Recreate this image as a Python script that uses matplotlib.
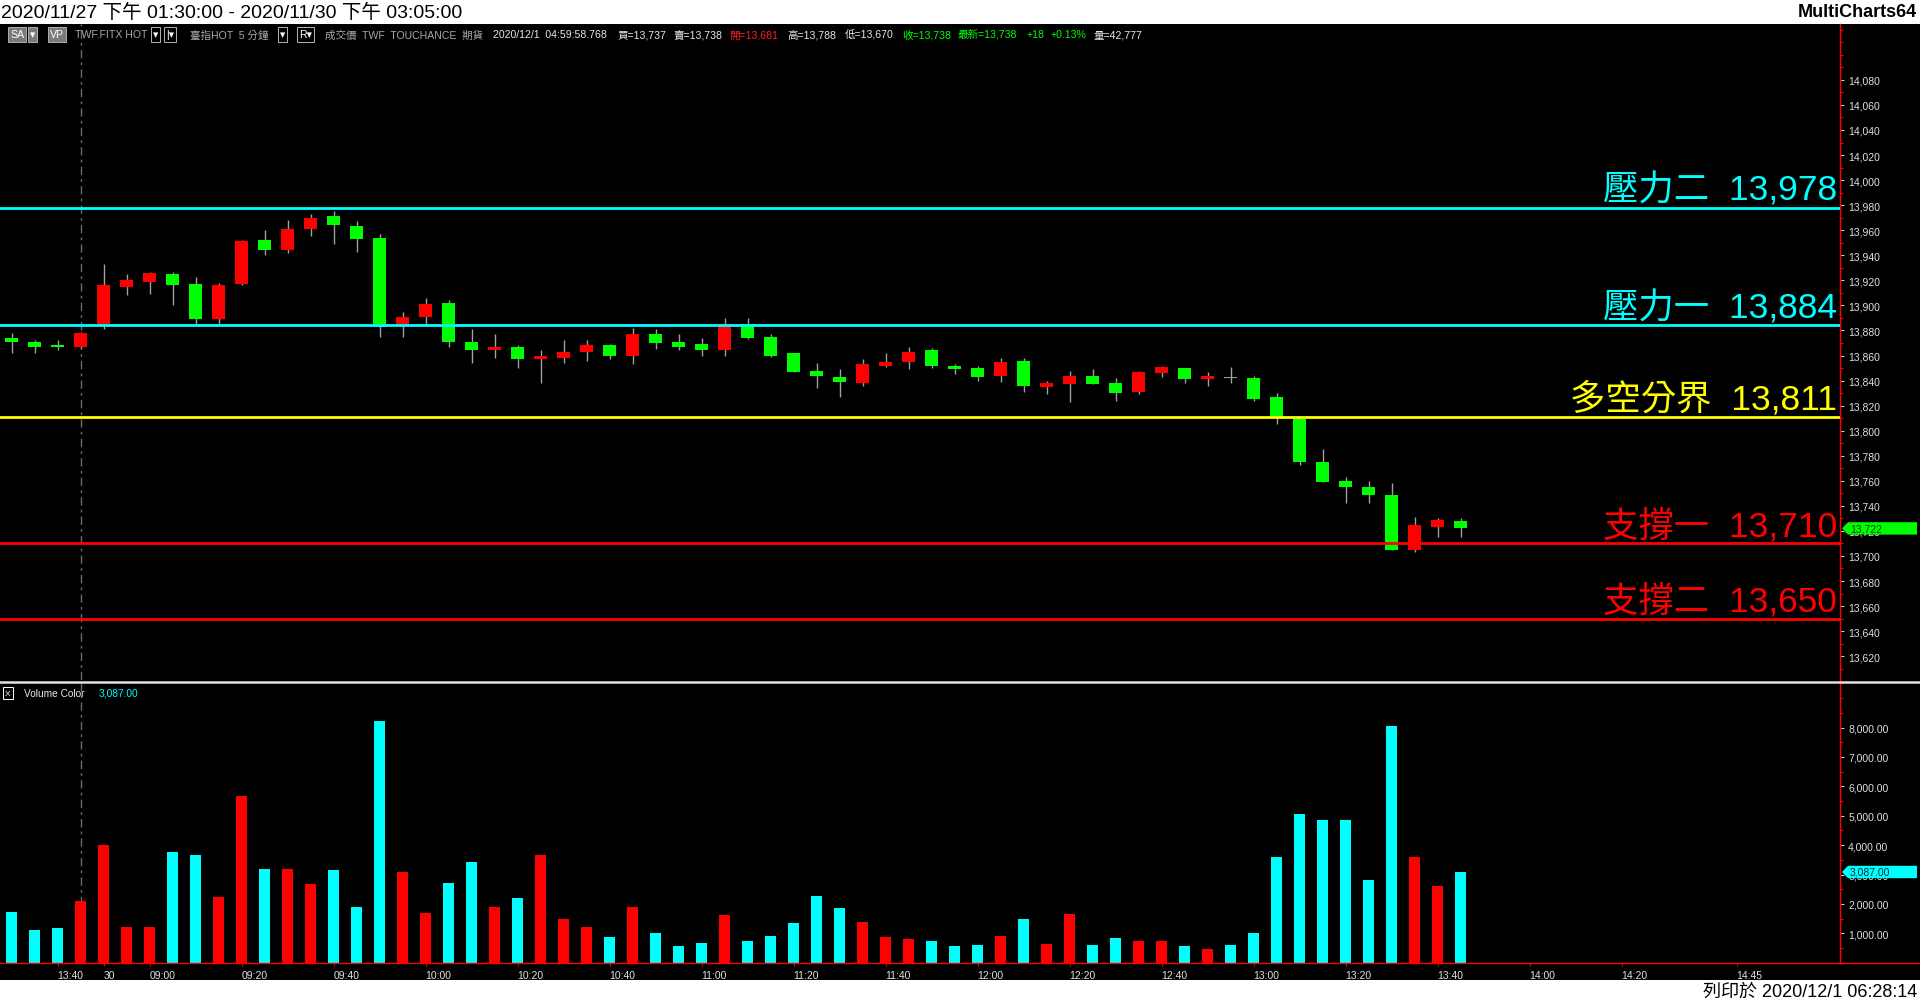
import matplotlib
matplotlib.use('Agg')
import matplotlib.pyplot as plt
import numpy as np
from matplotlib.patches import Rectangle, Polygon
from matplotlib.lines import Line2D
from matplotlib.ticker import MultipleLocator, FuncFormatter
from matplotlib.transforms import blended_transform_factory, ScaledTranslation

FONT = ['Liberation Sans', 'Noto Sans CJK TC', 'DejaVu Sans']
plt.rcParams['font.family'] = FONT

# --- 5 minute bars, 11/27 13:30 .. 11/30 13:45 ---
opens = [13874, 13871, 13868, 13867, 13884, 13915, 13919, 13925, 13917, 13889,
         13917, 13952, 13944, 13961, 13971, 13963, 13954, 13884, 13891, 13902,
         13871, 13864, 13867, 13857, 13858, 13863, 13868, 13860, 13877, 13871,
         13869, 13864, 13885, 13875, 13862, 13848, 13843, 13838, 13852, 13855,
         13864, 13852, 13850, 13844, 13856, 13835, 13837, 13844, 13838, 13831,
         13846, 13850, 13841, 13842, 13842, 13827, 13811, 13775, 13760, 13755,
         13749, 13705, 13723, 13728]
highs = [13878, 13872, 13872, 13879, 13933, 13925, 13927, 13927, 13923, 13918,
         13952, 13960, 13968, 13973, 13975, 13967, 13957, 13895, 13906, 13904,
         13881, 13877, 13868, 13864, 13872, 13872, 13869, 13882, 13881, 13877,
         13874, 13890, 13890, 13877, 13862, 13854, 13849, 13857, 13862, 13867,
         13866, 13853, 13852, 13858, 13858, 13840, 13848, 13849, 13842, 13848,
         13852, 13850, 13847, 13851, 13844, 13830, 13812, 13785, 13763, 13760,
         13758, 13731, 13730, 13730]
lows = [13862, 13862, 13864, 13866, 13881, 13908, 13909, 13900, 13884, 13884,
        13916, 13940, 13942, 13955, 13949, 13943, 13875, 13875, 13885, 13867,
        13854, 13858, 13850, 13838, 13854, 13856, 13857, 13853, 13865, 13864,
        13860, 13860, 13873, 13859, 13847, 13834, 13827, 13836, 13851, 13849,
        13850, 13845, 13840, 13839, 13831, 13829, 13823, 13837, 13824, 13829,
        13843, 13838, 13836, 13838, 13824, 13805, 13773, 13759, 13742, 13742,
        13705, 13703, 13715, 13715]
closes = [13871, 13867, 13867, 13878, 13916, 13920, 13926, 13916, 13889, 13916,
          13951, 13944, 13961, 13970, 13964, 13953, 13883, 13891, 13901, 13871,
          13864, 13867, 13857, 13860, 13863, 13868, 13860, 13877, 13870, 13867,
          13864, 13885, 13874, 13860, 13847, 13844, 13839, 13853, 13855, 13863,
          13852, 13849, 13843, 13855, 13836, 13838, 13844, 13837, 13830, 13847,
          13851, 13841, 13844, 13842, 13825, 13811, 13775, 13759, 13755, 13749,
          13705, 13725, 13729, 13722]
volumes = [1730, 1110, 1180, 2100, 3990, 1210, 1210, 3750, 3680, 2240,
           5680, 3200, 3200, 2690, 3170, 1900, 8230, 3070, 1690, 2720,
           3410, 1900, 2210, 3680, 1490, 1210, 870, 1900, 1010, 560,
           660, 1630, 730, 900, 1350, 2280, 1870, 1380, 870, 800,
           730, 560, 600, 900, 1500, 650, 1650, 600, 850, 750,
           750, 580, 480, 600, 1000, 3600, 5050, 4850, 4850, 2800,
           8050, 3600, 2600, 3087]

levels = [13978, 13884, 13811, 13710, 13650]
level_names = ['壓力二', '壓力一', '多空分界', '支撐一', '支撐二']
level_colors = ['#00ffff', '#00ffff', '#ffff00', '#ff0000', '#ff0000']

tick_bars = [2, 4, 6, 10, 14, 18, 22, 26, 30, 34, 38, 42, 46, 50, 54, 58, 62, 66, 70, 75]
tick_labels = ['13:40', '30', '09:00', '09:20', '09:40', '10:00', '10:20', '10:40',
               '11:00', '11:20', '11:40', '12:00', '12:20', '12:40', '13:00', '13:20',
               '13:40', '14:00', '14:20', '14:45']
session_break = 3
last_price = 13722
last_volume = 3087

W, H = 1920, 1004


def fy(y):
    return 1 - y / H


fig = plt.figure(figsize=(W / 100, H / 100), dpi=100, facecolor='white')
fig.patches.append(Rectangle((0, fy(981)), 1, fy(24.5) - fy(981), transform=fig.transFigure,
                             facecolor='black', edgecolor='none', zorder=-10))

ax = fig.add_axes([0, fy(681), 1840 / W, (681 - 24.5) / H])
axv = fig.add_axes([0, fy(963.7), 1840 / W, (963.7 - 684) / H])

x = np.arange(len(opens))
o = np.array(opens)
c = np.array(closes)
up = c > o
down = c < o
candle_colors = np.where(up, '#ff0000', np.where(down, '#00ff00', '#a0a0a0'))
vol_colors = np.where(up, '#ff0000', '#00ffff')

for a in (ax, axv):
    a.set_facecolor('black')
    a.set_xlim(-0.5, 79.5)
    for s in ('top', 'left', 'bottom'):
        a.spines[s].set_visible(False)
    a.spines['right'].set_color('#ff0000')
    a.spines['right'].set_linewidth(1)
    a.yaxis.tick_right()
    a.axvline(session_break, color='#6a6a6a', lw=1, dashes=(6, 3, 2, 3), zorder=1)

# --- price panel ---
ax.set_ylim(13601, 14125)
ax.vlines(x, lows, highs, color='#a0a0a0', lw=1, zorder=2)
bodies = np.maximum(np.abs(c - o), 0.9)
ax.bar(x, bodies, bottom=np.minimum(o, c), width=0.565, color=candle_colors, zorder=3)
ax.set_xticks([])
ax.set_yticks(np.arange(13620, 14081, 20))
ax.yaxis.set_minor_locator(MultipleLocator(10))
ax.yaxis.set_major_formatter(FuncFormatter(lambda v, p: f'{v:,.0f}'))
ax.tick_params(axis='y', which='major', length=2.9, width=0.8, color='#c8c8c8',
               labelcolor='#e0e0e0', labelsize=7.5, pad=3)
ax.tick_params(axis='y', which='minor', length=2.2, width=0.8, color='#ff0000')

for lv, name, col in zip(levels, level_names, level_colors):
    ax.axhline(lv, color=col, lw=2, zorder=4)
    ax.annotate(f'{name}  {lv:,}', xy=(1, lv), xycoords=('axes fraction', 'data'),
                xytext=(-3, 8), textcoords='offset pixels', ha='right', va='baseline',
                fontsize=25.5, color=col, zorder=5)

# current price tag
tr = blended_transform_factory(ax.transAxes, ax.transData)
hh = 6.2 / 1.2539
px = 1 / 1840
ax.add_patch(Polygon([(1 + 2 * px, last_price), (1 + 8 * px, last_price + hh),
                      (1917 / 1840, last_price + hh), (1917 / 1840, last_price - hh),
                      (1 + 8 * px, last_price - hh)], closed=True, transform=tr,
                     facecolor='#00ff00', edgecolor='none', clip_on=False, zorder=6))
ax.text(1 + 10 * px, last_price, f'{last_price:,}', transform=tr, fontsize=7.5,
        color='#004000', va='center', ha='left', clip_on=False, zorder=7)

# --- volume panel ---
axv.set_ylim(0, 9517)
axv.bar(x, volumes, width=0.48, color=vol_colors, zorder=3)
axv.set_yticks(np.arange(1000, 8001, 1000))
axv.yaxis.set_minor_locator(MultipleLocator(500))
axv.yaxis.set_major_formatter(FuncFormatter(lambda v, p: f'{v:,.2f}'))
axv.tick_params(axis='y', which='major', length=2.9, width=0.8, color='#c8c8c8',
                labelcolor='#e0e0e0', labelsize=7.5, pad=3)
axv.tick_params(axis='y', which='minor', length=2.2, width=0.8, color='#ff0000')
axv.set_xticks(tick_bars)
axv.set_xticklabels(tick_labels)
shift = ScaledTranslation(2.5 / 100, 0, fig.dpi_scale_trans)
for lbl in axv.get_xticklabels():
    lbl.set_ha('left')
    lbl.set_transform(lbl.get_transform() + shift)
axv.tick_params(axis='x', length=2.5, width=0.8, color='#ff0000', labelcolor='#e0e0e0',
                labelsize=7.5, pad=2.5)

trv = blended_transform_factory(axv.transAxes, axv.transData)
hv = 6.2 / 0.02939
axv.add_patch(Polygon([(1 + 2 * px, last_volume), (1 + 8 * px, last_volume + hv),
                       (1917 / 1840, last_volume + hv), (1917 / 1840, last_volume - hv),
                       (1 + 8 * px, last_volume - hv)], closed=True, transform=trv,
                      facecolor='#00ffff', edgecolor='none', clip_on=False, zorder=6))
axv.text(1 + 10 * px, last_volume, f'{last_volume:,.2f}', transform=trv, fontsize=7.5,
         color='#003040', va='center', ha='left', clip_on=False, zorder=7)

# separators and bottom axis line
fig.add_artist(Line2D([0, 1], [fy(682.5), fy(682.5)], color='#e0e0e0', lw=1.8))
fig.add_artist(Line2D([0, 1], [fy(963.7), fy(963.7)], color='#ff0000', lw=1))

fig.text(5 / W, fy(694), 'X', fontsize=6, color='white', va='center',
         bbox=dict(boxstyle='square,pad=0.25', fc='black', ec='white', lw=0.7))
fig.text(24 / W, fy(694), 'Volume Color', fontsize=7.3, color='#e8e8e8', va='center')
fig.text(99 / W, fy(694), f'{last_volume:,.2f}', fontsize=7.3, color='#00ffff', va='center')

# --- header ---
fig.text(1 / W, fy(12.5), '2020/11/27 下午 01:30:00 - 2020/11/30 下午 03:05:00',
         fontsize=14, color='black', va='center', ha='left')
fig.text(1917 / W, fy(12.5), 'MultiCharts64', fontsize=13, fontweight='bold',
         color='black', va='center', ha='right')
fig.text(1917 / W, fy(992.5), '列印於 2020/12/1 06:28:14', fontsize=13,
         color='black', va='center', ha='right')

gray_box = dict(boxstyle='square,pad=0.2', fc='#7a7a7a', ec='#c0c0c0', lw=0.6)
dark_box = dict(boxstyle='square,pad=0.2', fc='black', ec='#d0d0d0', lw=0.6)
toolbar = [
    (10, 'SA', 'white', gray_box), (30, '▾', 'white', gray_box),
    (50, 'VP', 'white', gray_box), (75, 'TWF.FITX HOT', '#a8a8a8', None),
    (153, '▾', 'white', dark_box), (166, '|▾', 'white', dark_box),
    (190, '臺指HOT  5 分鐘', '#a8a8a8', None), (280, '▾', 'white', dark_box),
    (299, 'R▾', 'white', dark_box),
    (325, '成交價  TWF  TOUCHANCE  期貨', '#a8a8a8', None),
    (493, '2020/12/1  04:59:58.768', '#e8e8e8', None),
    (617, '買=13,737', '#e8e8e8', None), (673, '賣=13,738', '#e8e8e8', None),
    (729, '開=13,681', '#ff2020', None), (787, '高=13,788', '#e8e8e8', None),
    (845, '低=13,670', '#e8e8e8', None), (902, '收=13,738', '#00ff00', None),
    (958, '最新=13,738', '#00ff00', None), (1027, '+18', '#00ff00', None),
    (1051, '+0.13%', '#00ff00', None), (1094, '量=42,777', '#e8e8e8', None),
]
for xp, s, col, box in toolbar:
    fig.text(xp / W, fy(35.5), s, fontsize=7.6, color=col, va='center', ha='left', bbox=box)

fig.savefig('out.png', dpi=100, facecolor='white')
